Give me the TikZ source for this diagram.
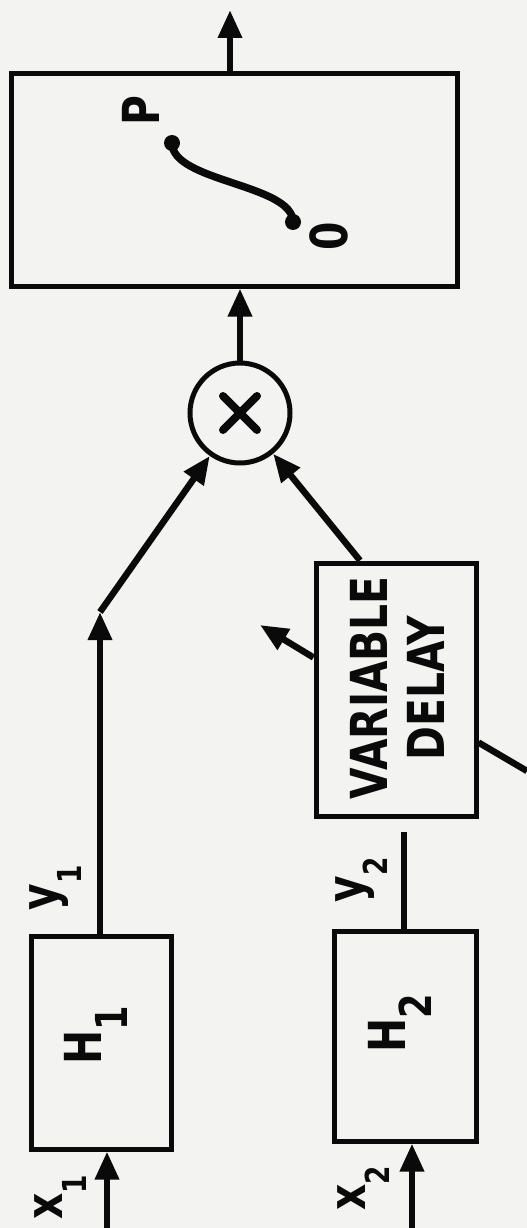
\documentclass[tikz,border=0pt]{standalone}
\usepackage{fontspec}
\newfontfamily\leroyfont{DejaVu Sans}[FakeStretch=0.8]
\usetikzlibrary{arrows.meta,calc}
\definecolor{paper}{RGB}{243,243,241}
\definecolor{ink}{RGB}{10,10,10}
\newcommand{\mylab}{\leroyfont\bfseries\fontsize{51}{57}\selectfont}
\newcommand{\mysub}[1]{\raisebox{-24pt}{\fontsize{33}{33}\selectfont #1}}
\newcommand{\hsub}[1]{\raisebox{-26pt}{\fontsize{44}{44}\selectfont #1}}
\begin{document}
\begin{tikzpicture}[x=1pt,y=-1pt,
  box/.style={draw=ink, line width=5pt, rectangle, inner sep=0pt},
  arr/.style={draw=ink, line width=6.5pt, -{Triangle[length=28pt,width=23pt]}},
  wire/.style={draw=ink, line width=6.5pt},
  lab/.style={text=ink, inner sep=0pt, rotate=90, font=\mylab}]
\fill[paper] (0,0) rectangle (527,1228);
\useasboundingbox (0,0) rectangle (527,1228);

% blocks
\node[box, minimum width=446pt, minimum height=212pt] (nl) at (234,180) {};
\node[draw=ink, line width=5pt, circle, minimum size=100pt, inner sep=0pt] (m) at (240,413) {};
\node[box, minimum width=160pt, minimum height=253pt] (d) at (396,689.5) {};
\node[box, minimum width=140pt, minimum height=213pt] (H1) at (101,1042.5) {};
\node[box, minimum width=142pt, minimum height=210pt] (H2) at (405,1036) {};

% multiplier sign
\draw[ink, line width=8pt, line cap=round] ($(m)+(-17,-17)$) -- ($(m)+(17,17)$)
  ($(m)+(-17,17)$) -- ($(m)+(17,-17)$);

% nonlinearity curve
\coordinate (cA) at (172,143);
\coordinate (cB) at (293,222);
\draw[wire, line width=7.5pt] (cA) .. controls (172,182) and (293,184) .. (cB);
\fill[ink] (cA) circle (8pt);
\fill[ink] (cB) circle (8pt);
\node[lab] (tP) at (141,111) {P};
\node[lab] (t0) at (329,236) {0};

% texts
\node[lab, align=center] (dt) at (397,688) {VARIABLE\\DELAY};
\node[lab] (tH1) at (96,1035) {H\hsub{1}};
\node[lab] (tH2) at (400,1023) {H\hsub{2}};
\node[lab] (ty1) at (56,888) {y\mysub{1}};
\node[lab] (ty2) at (362,880) {y\mysub{2}};
\node[lab] (tx1) at (61,1197) {x\mysub{1}};
\node[lab] (tx2) at (364,1188) {x\mysub{2}};

% connectors
\coordinate (outend) at (230,10);
\draw[arr] (nl.north -| outend) -- (outend);
\draw[arr] (m.north) -- (m.north |- nl.south);
\coordinate (j) at (100,612);
\draw[arr] (H1.north -| j) -- (j);
\draw[arr] (j) -- (m);
\draw[arr] ([xshift=-36pt]d.north) -- (m);
\coordinate (dl) at (260,625);
\draw[arr] ([yshift=32pt]d.west) -- (dl);
\coordinate (dr) at (527,771);
\draw[wire] ([yshift=-53pt]d.east) -- (dr);
\coordinate (y2end) at (404,832);
\draw[wire] (H2.north -| y2end) -- (y2end);
\coordinate (x1s) at (107,1228);
\draw[arr] (x1s) -- (x1s |- H1.south);
\coordinate (x2s) at (412,1228);
\draw[arr] (x2s) -- (x2s |- H2.south);
\end{tikzpicture}
\end{document}
